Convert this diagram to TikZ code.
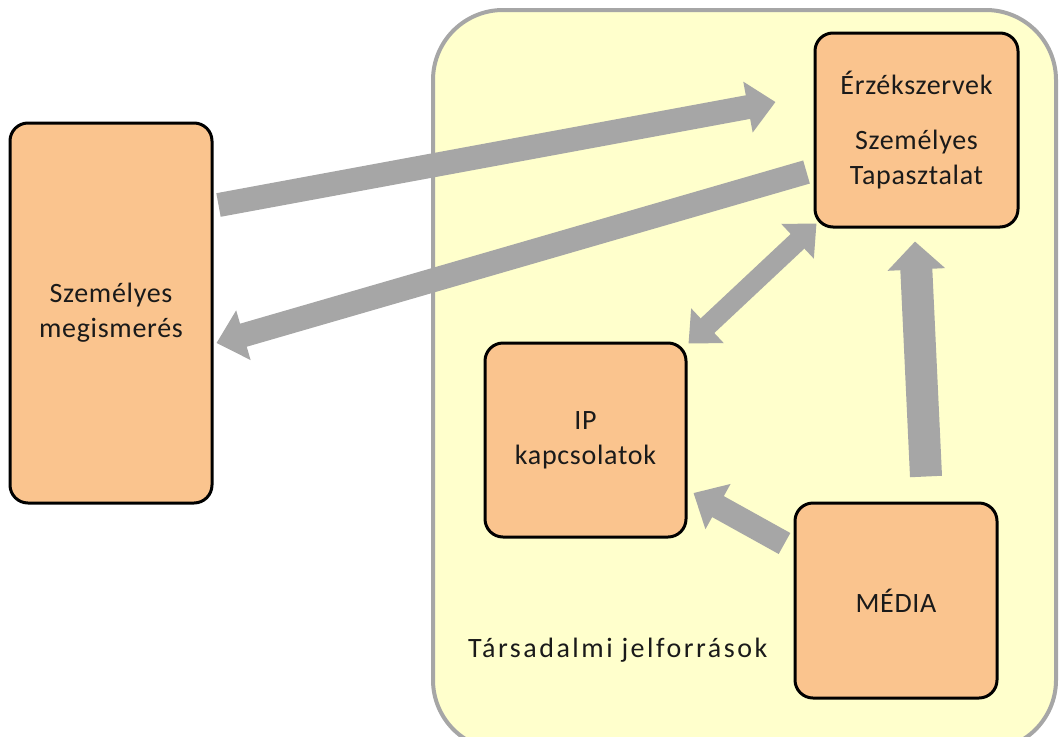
\documentclass[tikz,border=0pt]{standalone}
\usepackage{fontspec}
\setmainfont{Carlito}
\newfontfamily\boxfont[LetterSpace=2.5]{Carlito}
\newfontfamily\widefont[LetterSpace=9]{Carlito}
\usetikzlibrary{arrows.meta,calc}
\definecolor{peach}{HTML}{FAC48E}
\definecolor{paleyellow}{HTML}{FFFFCC}
\definecolor{arrowgray}{HTML}{A6A6A6}
\definecolor{textgray}{HTML}{1A1A1A}
\begin{document}
\begin{tikzpicture}[x=1pt,y=-1pt,
  box/.style={draw=black, line width=3pt, fill=peach, rounded corners=18pt, align=center,
    font=\boxfont\fontsize{28}{35}\selectfont, text=textgray, inner sep=0pt},
  grayarrow/.style={draw=arrowgray, line width=24pt, -{Triangle[length=28pt,width=50pt]}},
  dblarrow/.style={draw=arrowgray, line width=20pt, {Triangle[length=26pt,width=46pt]}-{Triangle[length=26pt,width=46pt]}},
  lbl/.style={font=\widefont\fontsize{28}{35}\selectfont, text=textgray, inner sep=0pt}]
\useasboundingbox (0,0) rectangle (1059,736);
\clip (0,0) rectangle (1059,736);
\draw[draw=arrowgray, fill=paleyellow, line width=4pt, rounded corners=70pt] (433,10) rectangle (1056,750);
\node[box, minimum width=202pt, minimum height=380pt] (left) at (111,313) {Személyes\\megismerés};
\node[box, minimum width=203pt, minimum height=194pt] (tr) at (916.5,130) {Érzékszervek\\[20pt]Személyes\\Tapasztalat};
\node[box, minimum width=201pt, minimum height=194pt] (ip) at (585.5,440) {IP\\kapcsolatok};
\node[box, minimum width=202pt, minimum height=195pt] (media) at (896,600.5) {MÉDIA};
\node[lbl, anchor=west] (soc) at (468,650) {Társadalmi jelforrások};
\draw[grayarrow] ($(left.east)+(5,-108)$) -- ($(tr.west)+(-38,-28)$);
\draw[grayarrow] ($(tr.west)+(-7,42)$) -- ($(left.east)+(3,30)$);
\draw[dblarrow] ($(ip.north east)+(1,2)$) -- ($(tr.south west)+(3,-5)$);
\draw[grayarrow] ($(media.west)+(-9,-57)$) -- ($(ip.east)+(6,53)$);
\draw[draw=arrowgray, line width=32pt, -{Triangle[length=28pt,width=56pt]}] ($(media.north)+(30,-25)$) -- ($(tr.south)+(-1.5,13)$);
\end{tikzpicture}
\end{document}
